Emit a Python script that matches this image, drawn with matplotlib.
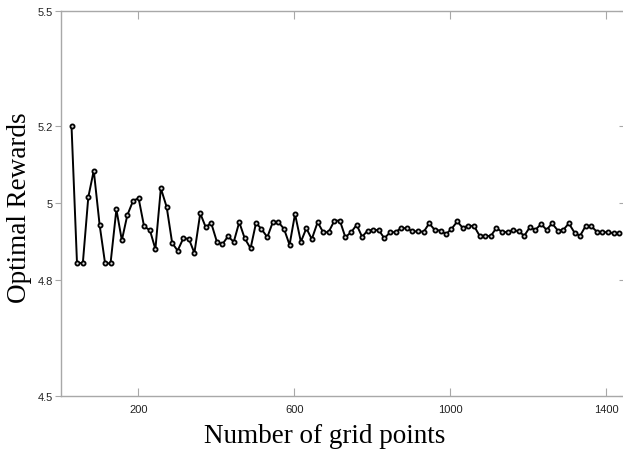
import matplotlib.pyplot as plt

# grid sizes (x) and the optimal reward found for each
grid_points = [29, 43, 58, 72, 86, 101, 115, 129, 144, 158,
               172, 187, 201, 215, 230, 244, 258, 273, 287, 301,
               316, 330, 344, 359, 373, 387, 402, 416, 430, 445,
               459, 473, 488, 502, 516, 531, 545, 559, 574, 588,
               602, 617, 631, 645, 660, 674, 688, 703, 717, 731,
               746, 760, 774, 788, 803, 817, 831, 846, 860, 874,
               889, 903, 917, 932, 946, 960, 975, 989, 1003, 1018,
               1032, 1046, 1061, 1075, 1089, 1104, 1118, 1132, 1147, 1161,
               1175, 1190, 1204, 1218, 1233, 1247, 1261, 1276, 1290, 1304,
               1319, 1333, 1347, 1362, 1376, 1390, 1405, 1419, 1433]

rewards = [5.200, 4.845, 4.845, 5.016, 5.085, 4.944, 4.844, 4.844, 4.984, 4.904,
           4.969, 5.007, 5.013, 4.940, 4.930, 4.881, 5.039, 4.990, 4.897, 4.877,
           4.910, 4.907, 4.871, 4.974, 4.938, 4.949, 4.899, 4.894, 4.914, 4.900,
           4.951, 4.909, 4.883, 4.949, 4.933, 4.912, 4.951, 4.952, 4.933, 4.892,
           4.972, 4.900, 4.935, 4.907, 4.951, 4.925, 4.925, 4.955, 4.955, 4.912,
           4.925, 4.944, 4.913, 4.929, 4.931, 4.930, 4.909, 4.925, 4.925, 4.936,
           4.935, 4.927, 4.927, 4.926, 4.948, 4.931, 4.929, 4.920, 4.933, 4.953,
           4.936, 4.942, 4.941, 4.916, 4.915, 4.915, 4.936, 4.926, 4.925, 4.931,
           4.927, 4.916, 4.938, 4.931, 4.946, 4.931, 4.948, 4.929, 4.931, 4.948,
           4.923, 4.916, 4.941, 4.940, 4.926, 4.925, 4.925, 4.922, 4.922]

x_ticks = [200, 600, 1000, 1400]
y_ticks = [4.5, 4.8, 5.0, 5.2, 5.5]
y_tick_labels = ['4.5', '4.8', '5', '5.2', '5.5']

fig = plt.figure(figsize=(6.23, 4.52), dpi=100)
ax = fig.add_axes([61 / 623, 55.2 / 452, 564 / 623, 385 / 452])

ax.plot(grid_points, rewards, color='black', linewidth=1.4,
        marker='o', markersize=3.0, markerfacecolor='#dddddd',
        markeredgecolor='black', markeredgewidth=1.3)

ax.set_xlim(2, 1448)
ax.set_ylim(4.5, 5.5)
ax.set_xticks(x_ticks)
ax.set_yticks(y_ticks)
ax.set_yticklabels(y_tick_labels)

tick_font = ['Liberation Sans Narrow', 'Liberation Sans', 'DejaVu Sans']
for lbl in ax.get_xticklabels() + ax.get_yticklabels():
    lbl.set_family(tick_font)
    lbl.set_fontsize(8)
    lbl.set_color('#222222')

spine_col = '#a8a8a8'
for s in ax.spines.values():
    s.set_color(spine_col)
    s.set_linewidth(1.0)
ax.spines['right'].set_visible(False)

ax.tick_params(axis='x', direction='in', length=6, color=spine_col,
               top=True, pad=6)
ax.tick_params(axis='y', which='both', left=True, right=False,
               direction='out', length=4, color=spine_col, pad=2)
# inward ticks on the right-hand side
ax2 = ax.secondary_yaxis('right')
ax2.set_yticks(y_ticks)
ax2.tick_params(direction='in', length=4, color=spine_col, labelright=False)
ax2.spines['right'].set_visible(False)

ax.set_xlabel('Number of grid points', family='Liberation Serif',
              fontsize=19.5, va='center')
ax.xaxis.set_label_coords(0.467, -0.102)
ax.set_ylabel('Optimal Rewards', family='Liberation Serif',
              fontsize=19.5, va='center')
ax.yaxis.set_label_coords(-0.073, 0.49)

fig.savefig('out.png', dpi=100)
